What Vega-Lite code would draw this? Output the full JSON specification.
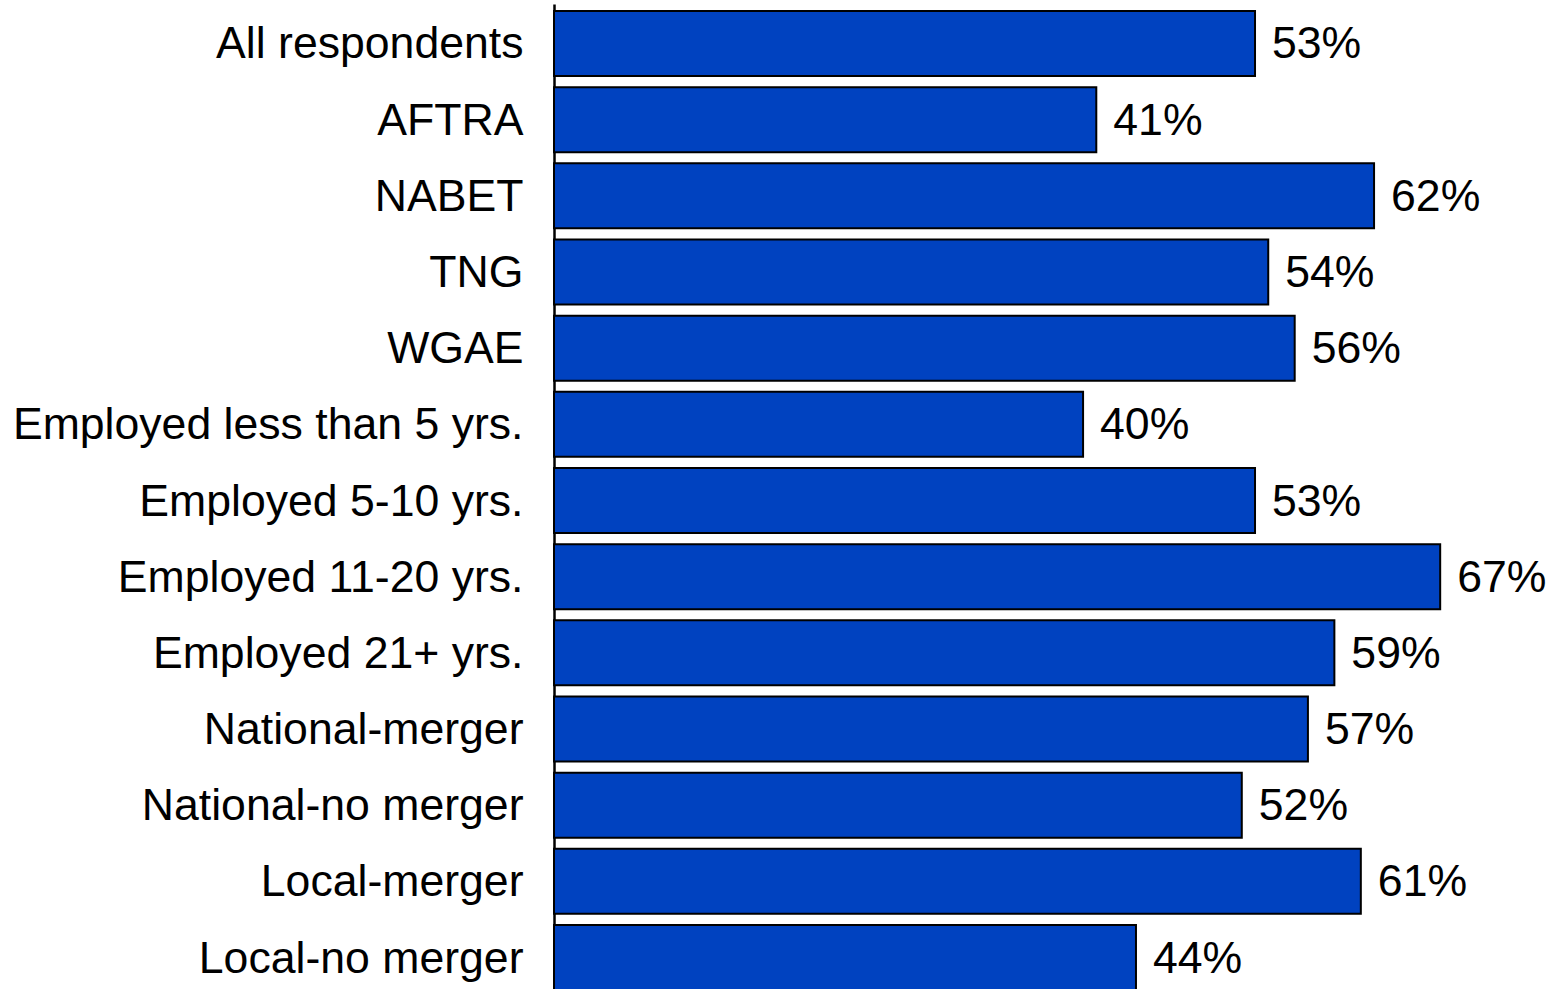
{
  "$schema": "https://vega.github.io/schema/vega-lite/v6.json",
  "autosize": {"type": "none"},
  "padding": {"left": 554, "top": 4, "right": 0, "bottom": 0},
  "width": 992,
  "height": 993,
  "background": "white",
  "config": {"view": {"stroke": null}, "font": "Liberation Sans"},
  "data": {"values": [
    {"group": "All respondents", "pct": 53},
    {"group": "AFTRA", "pct": 41},
    {"group": "NABET", "pct": 62},
    {"group": "TNG", "pct": 54},
    {"group": "WGAE", "pct": 56},
    {"group": "Employed less than 5 yrs.", "pct": 40},
    {"group": "Employed 5-10 yrs.", "pct": 53},
    {"group": "Employed 11-20 yrs.", "pct": 67},
    {"group": "Employed 21+ yrs.", "pct": 59},
    {"group": "National-merger", "pct": 57},
    {"group": "National-no merger", "pct": 52},
    {"group": "Local-merger", "pct": 61},
    {"group": "Local-no merger", "pct": 44}
  ]},
  "encoding": {
    "y": {"field": "group", "type": "nominal", "sort": null,
      "scale": {"paddingInner": 0.147, "paddingOuter": 0.092},
      "axis": {"title": null, "ticks": false, "labelPadding": 31, "labelFontSize": 44.6, "labelColor": "black", "labelFont": "Liberation Sans", "labelOffset": 2, "domainColor": "black", "domainWidth": 2.5, "labelLimit": 0}},
    "x": {"field": "pct", "type": "quantitative", "scale": {"domain": [0, 75]}, "axis": null}
  },
  "layer": [
    {"mark": {"type": "bar", "color": "#0042C0", "stroke": "black", "strokeWidth": 2}},
    {"mark": {"type": "text", "align": "left", "dx": 17, "dy": 2, "fontSize": 44.6, "color": "black", "font": "Liberation Sans"},
     "transform": [{"calculate": "datum.pct + '%'", "as": "label"}],
     "encoding": {"text": {"field": "label", "type": "nominal"}}}
  ]
}
